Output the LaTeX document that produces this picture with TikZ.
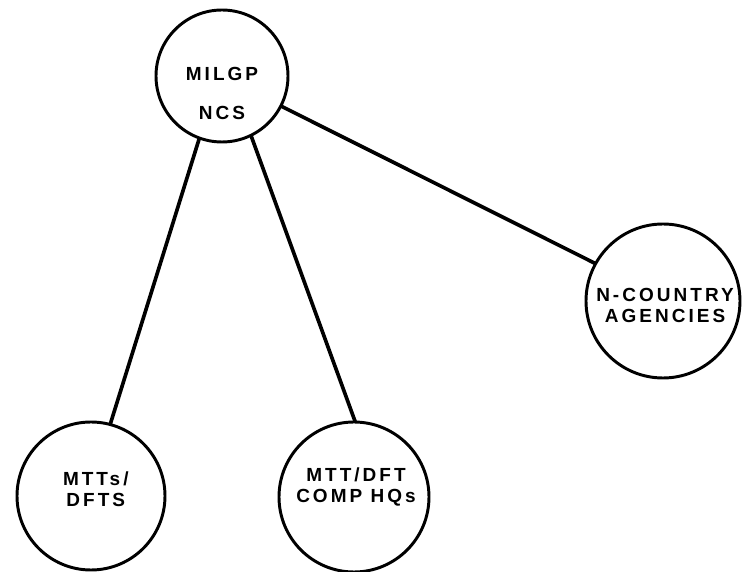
\documentclass[tikz,border=0pt]{standalone}
\usepackage{fontspec}
\newfontfamily\chartfont{Liberation Sans}[LetterSpace=16]
\usetikzlibrary{calc}

\tikzset{
  unit/.style={draw,circle,line width=2.1pt,inner sep=0pt,outer sep=0pt},
  tag/.style={font=\chartfont\bfseries\fontsize{13.5}{16}\selectfont,align=center,inner sep=0pt},
  link/.style={line width=2.6pt}
}

\begin{document}
\begin{tikzpicture}
 \useasboundingbox (0,0) rectangle (18.575,-14.3);

 \node[unit,minimum size=3.3cm] (milgp) at (5.55,-1.9) {};
 \node[unit,minimum size=3.7cm] (mtts) at (2.275,-12.4) {};
 \node[unit,minimum size=3.75cm] (mttdft) at (8.85,-12.425) {};
 \node[unit,minimum size=3.85cm] (ncountry) at (16.575,-7.525) {};

 \node[tag] (milgptxt) at ($(milgp)+(0,-0.43)$) {MILGP\\[12pt]NCS};
 \node[tag] (mttstxt) at ($(mtts)+(0.12,0.17)$) {MTTs/\\[-1pt]DFTS};
 \node[tag] (mttdfttxt) at ($(mttdft)+(0.05,0.24)$) {MTT/DFT\\[-1pt]COMP HQs};
 \node[tag] (ncountrytxt) at ($(ncountry)+(0.05,-0.12)$) {N-COUNTRY\\[-1pt]AGENCIES};

 \draw[link] (milgp.-110) -- (mtts.75);
 \draw[link] (milgp.-64) -- (mttdft.89);
 \draw[link] (milgp.-27) -- (ncountry.151);
\end{tikzpicture}
\end{document}
